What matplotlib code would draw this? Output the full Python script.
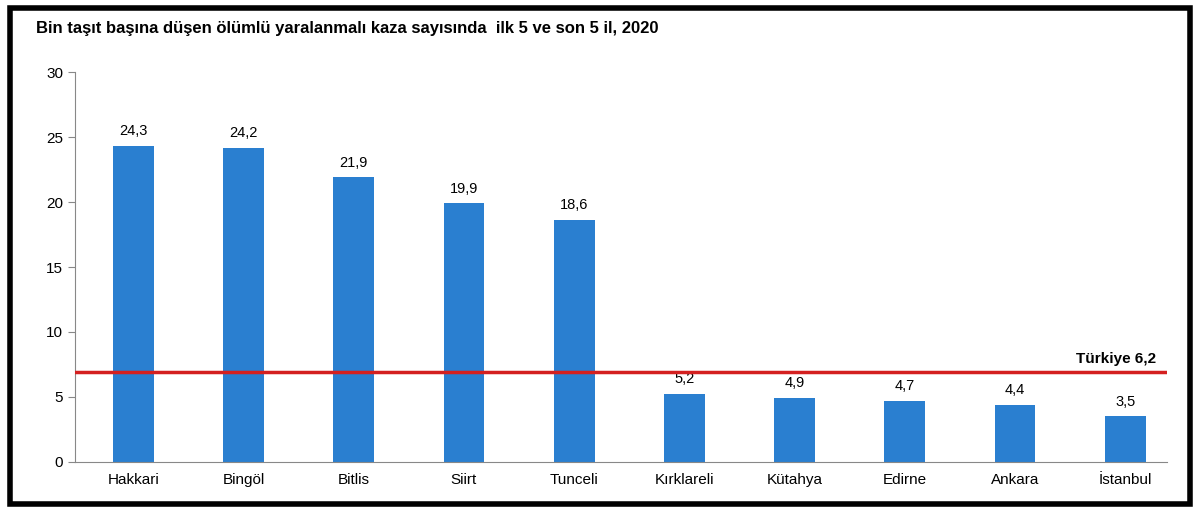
import matplotlib
matplotlib.use("Agg")
from matplotlib import pyplot as plt
from matplotlib.patches import Rectangle

cities = ["Hakkari", "Bingöl", "Bitlis", "Siirt", "Tunceli",
          "Kırklareli", "Kütahya", "Edirne", "Ankara", "İstanbul"]
values = [24.3, 24.2, 21.9, 19.9, 18.6, 5.2, 4.9, 4.7, 4.4, 3.5]
turkiye_line = 6.9
turkiye_label = "Türkiye 6,2"
title = "Bin taşıt başına düşen ölümlü yaralanmalı kaza sayısında  ilk 5 ve son 5 il, 2020"

plt.rcParams["font.family"] = ["Liberation Sans", "DejaVu Sans"]

fig = plt.figure(figsize=(12, 5.12), dpi=100)
ax = fig.add_axes([0.0625, 0.098, 0.91, 0.761])

x = range(len(cities))
ax.bar(x, values, width=0.37, color="#2a7fd0", zorder=2)
for i, v in zip(x, values):
    ax.text(i, v + 0.6, f"{v:.1f}".replace(".", ","), ha="center", va="bottom", fontsize=10.5)

ax.axhline(turkiye_line, color="#d42020", linewidth=2.5, zorder=3)
ax.text(len(cities) - 0.72, turkiye_line + 0.5, turkiye_label, ha="right", va="bottom",
        fontsize=11, fontweight="bold")

ax.set_xlim(-0.53, 9.38)
ax.set_ylim(0, 30)
ax.set_yticks(range(0, 31, 5))
ax.set_xticks(list(x))
ax.set_xticklabels(cities, fontsize=11)
ax.tick_params(axis="y", labelsize=11, length=5, color="#888888")
ax.tick_params(axis="x", length=0, pad=8)
for side in ["top", "right"]:
    ax.spines[side].set_visible(False)
ax.spines["left"].set_color("#888888")
ax.spines["bottom"].set_color("#888888")

fig.text(0.03, 0.93, title, fontsize=12, fontweight="bold", ha="left", va="bottom")
fig.patches.append(Rectangle((0.008, 0.015), 0.984, 0.97, transform=fig.transFigure,
                             fill=False, edgecolor="black", linewidth=4))

fig.savefig("out.png", dpi=100)
